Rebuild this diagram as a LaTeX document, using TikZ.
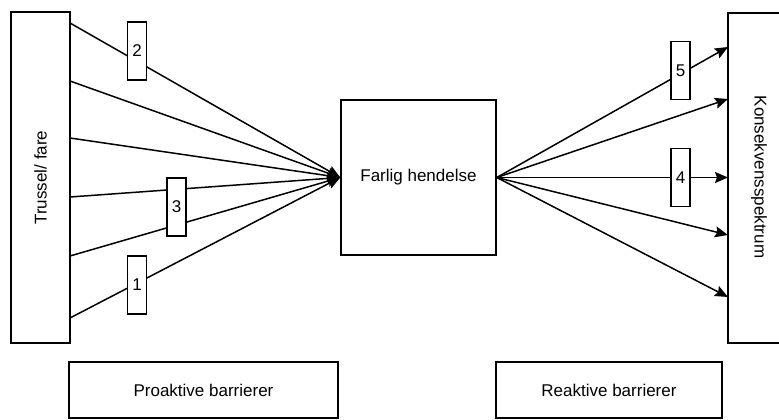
\documentclass[tikz,border=0pt]{standalone}
\usepackage{fontspec}
\setmainfont{Liberation Sans}
\usetikzlibrary{arrows.meta}
\begin{document}
\begin{tikzpicture}[x=1pt,y=-1pt,
  box/.style={draw, line width=1.5pt, fill=white, inner sep=0pt},
  lbl/.style={draw, line width=1.5pt, fill=white, minimum width=19pt, minimum height=58pt, inner sep=0pt, font=\fontsize{17}{20}\selectfont},
  arr/.style={line width=1.5pt, -{Stealth[length=13pt,width=11pt,inset=2pt]}},
  txt/.style={font=\fontsize{17}{20}\selectfont, inner sep=0pt}]
\clip (0,0) rectangle (779,420);
% main boxes
\node[box, minimum width=59pt, minimum height=331pt] (threat) at (40.5,177.5) {};
\node[txt, rotate=90] (threattxt) at (threat.center) {Trussel/ fare};
\node[box, minimum width=155pt, minimum height=155pt, txt] (event) at (418.5,177.5) {Farlig hendelse};
\node[box, minimum width=62pt, minimum height=330pt] (cons) at (759,178) {};
\node[txt, rotate=-90] (constxt) at (759,177) {Konsekvensspektrum};
\node[box, minimum width=269pt, minimum height=56pt, txt] (pro) at (203.5,390) {Proaktive barrierer};
\node[box, minimum width=226pt, minimum height=56pt, txt] (rea) at (609,390) {Reaktive barrierer};
% left connector start points
\coordinate (l1) at (70,23);
\coordinate (l2) at (70,81);
\coordinate (l3) at (70,138);
\coordinate (l4) at (70,197);
\coordinate (l5) at (70,256);
\coordinate (l6) at (70,318);
\foreach \c in {l1,l2,l3,l4,l5,l6} \draw[arr] (\c) -- (event.west);
% right connector end points
\coordinate (r1) at (728,47);
\coordinate (r2) at (728,99);
\coordinate (r3) at (728,177.5);
\coordinate (r4) at (728,235);
\coordinate (r5) at (728,297);
\foreach \c in {r1,r2,r3,r4,r5} \draw[arr] (event.east) -- (\c);
% barrier labels
\node[lbl] (b2) at (137,51) {2};
\node[lbl] (b3) at (176.5,207) {3};
\node[lbl] (b1) at (137,285) {1};
\node[lbl] (b5) at (680.5,70.5) {5};
\node[lbl] (b4) at (680.5,177.5) {4};
\end{tikzpicture}
\end{document}
